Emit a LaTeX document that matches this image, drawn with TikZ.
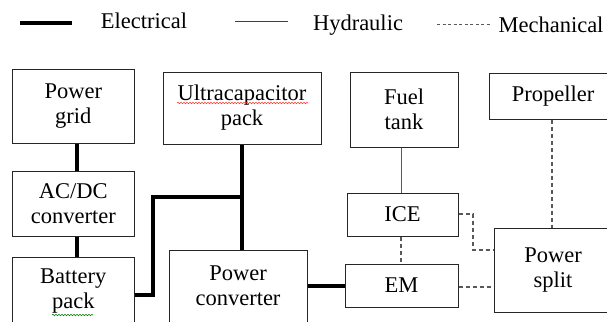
\documentclass[tikz,border=0pt]{standalone}
\usepackage{fontspec}
\setmainfont{Liberation Serif}
\newfontfamily\tnr{Liberation Serif}
\usetikzlibrary{decorations.pathmorphing}
\begin{document}
\begin{tikzpicture}[x=1pt,y=-1pt,
  box/.style={draw=black!85, line width=1pt, align=center, inner sep=0pt,
    font=\tnr\fontsize{22.5}{25}\selectfont},
  elec/.style={line width=4pt, black},
  hyd/.style={line width=1pt, black!65},
  mech/.style={line width=1.3pt, black!65, dash pattern=on 4pt off 3pt},
  lbl/.style={font=\tnr\fontsize{22.5}{25}\selectfont, inner sep=0pt},
  spell/.style={decorate, decoration={snake, amplitude=0.7pt, segment length=3pt}, line width=0.6pt}]
\useasboundingbox (0,0) rectangle (607,321);
\clip (0,0) rectangle (607,321);
\fill[white] (0,0) rectangle (607,321);

% legend
\coordinate (le1) at (20,23); \coordinate (le2) at (72,23);
\coordinate (lh1) at (235,22); \coordinate (lh2) at (288,22);
\coordinate (lm1) at (437,25); \coordinate (lm2) at (490,25);
\draw[elec, line width=4.5pt] (le1) -- (le2);
\draw[hyd, black!75] (lh1) -- (lh2);
\draw[mech, line width=1pt, dash pattern=on 3pt off 2.5pt] (lm1) -- (lm2);
\node[lbl] (tE) at (144,21) {Electrical};
\node[lbl] (tH) at (358,25) {Hydraulic};
\node[lbl] (tM) at (551,25) {Mechanical};

% boxes
\node[box, minimum width=121.5, minimum height=74] (grid) at (73.3,106) {Power\\grid};
\node[box, minimum width=121.5, minimum height=65] (acdc) at (73.3,203.5) {AC/DC\\converter};
\node[box, minimum width=121.5, minimum height=69] (batt) at (73.3,291.5) {Battery\\pack};
\node[box, minimum width=158, minimum height=72] (ucap) at (242,108) {Ultracapacitor\\pack};
\node[box, minimum width=138, minimum height=72] (pconv) at (238,286) {Power\\converter};
\node[box, minimum width=108, minimum height=75] (fuel) at (404,109.5) {Fuel\\tank};
\node[box, minimum width=128, minimum height=46] (prop) at (553,96) {Propeller};
\node[box, minimum width=111, minimum height=43] (ice) at (402.5,214.5) {ICE};
\node[box, minimum width=113, minimum height=43] (em) at (401.5,285.5) {EM};
\node[box, minimum width=118, minimum height=84] (split) at (553,270) {Power\\split};

% spell-check marks
\draw[spell, red!80] (177,103) -- (308,103);
\draw[spell, green!50!black] (52,315) -- (93,315);

% helper coordinates
\coordinate (xa) at (77,0);
\coordinate (b1) at (153,295);
\coordinate (b2) at (153,197);
\coordinate (xf) at (401,0);
\coordinate (xp) at (552,0);
\coordinate (c1) at (473,214);
\coordinate (c2) at (473,250);
\coordinate (ye) at (0,287);

% electrical
\draw[elec] (grid.south -| xa) -- (acdc.north -| xa);
\draw[elec] (acdc.south -| xa) -- (batt.north -| xa);
\draw[elec, line join=miter] (batt.east |- b1) -- (b1) -- (b2) -- (ucap.south |- b2);
\draw[elec] (ucap.south) -- (pconv.north -| ucap.south);
\draw[elec] (pconv.east) -- (em.west |- pconv.east);

% hydraulic
\draw[hyd] (fuel.south -| xf) -- (ice.north -| xf);

% mechanical
\draw[mech] (ice.south -| xf) -- (em.north -| xf);
\draw[mech] (prop.south -| xp) -- (split.north -| xp);
\draw[mech] (ice.east |- c1) -- (c1) -- (c2) -- (split.west |- c2);
\draw[mech] (em.east |- ye) -- (split.west |- ye);
\end{tikzpicture}
\end{document}
